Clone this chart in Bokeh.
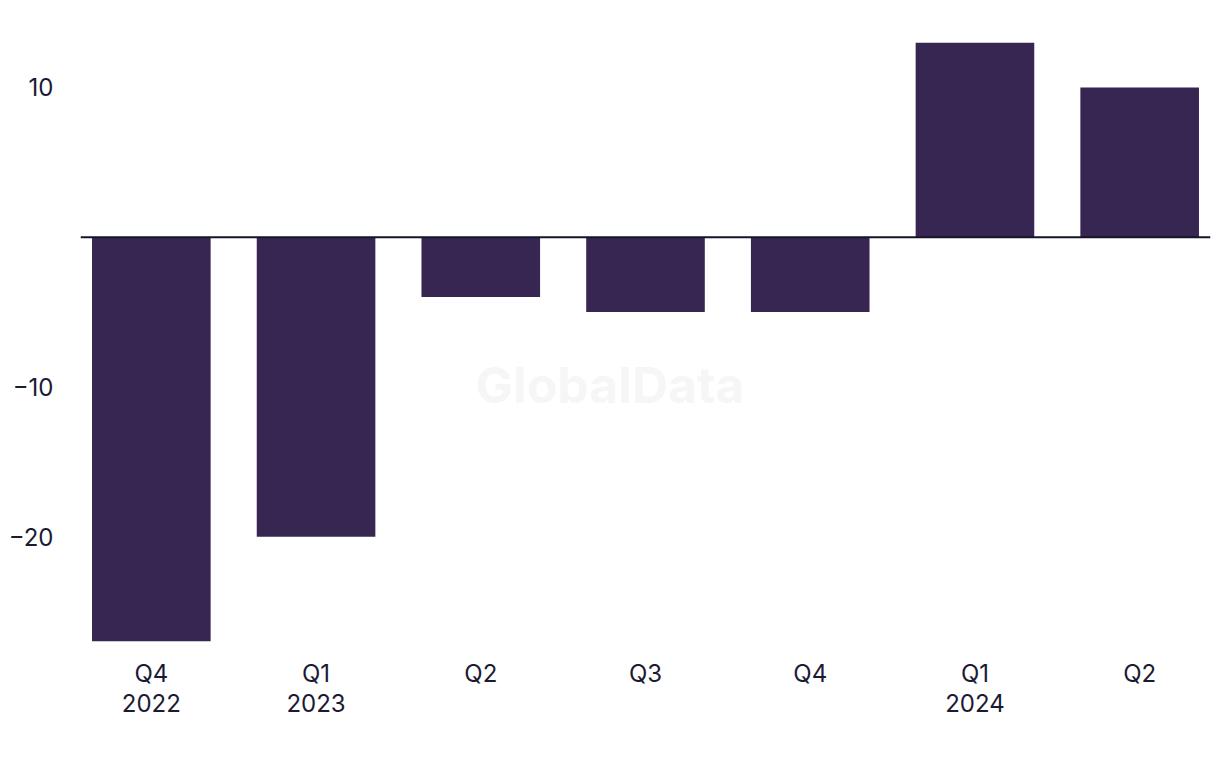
from bokeh.plotting import figure
from bokeh.models import Range1d, FixedTicker, Span, Label
from bokeh.embed import file_html
from bokeh.resources import INLINE

labels = ["Q4\n2022", "Q1\n2023", "Q2", "Q3", "Q4", "Q1\n2024", "Q2"]
values = [-27, -20, -4, -5, -5, 13, 10]
y_ticks = [10, -10, -20]
y_tick_labels = ["10", "\u221210", "\u221220"]

xs = list(range(len(values)))

BAR = "#372552"
TXT = "#1b1a33"
FONT = "Inter"

p = figure(frame_width=1130, frame_height=599, output_backend="svg", toolbar_location=None,
           x_range=Range1d(-0.43, 6.43), y_range=Range1d(-27, 13),
           min_border_left=80, min_border_top=42, min_border_right=4, min_border_bottom=10)

p.vbar(x=xs, top=values, bottom=0, width=0.72, color=BAR, line_color=None)

p.add_layout(Span(location=0, dimension="width", line_color="#15142a", line_width=2))

p.add_layout(Label(x=2.785, y=-9.85, text="GlobalData", text_align="center", text_baseline="middle",
                   text_font=FONT, text_font_style="bold", text_font_size="50px", text_color="#f6f6f6"))

p.xaxis.ticker = FixedTicker(ticks=xs)
p.xaxis.major_label_overrides = {i: l for i, l in zip(xs, labels)}
p.yaxis.ticker = FixedTicker(ticks=y_ticks)
p.yaxis.major_label_overrides = {t: l for t, l in zip(y_ticks, y_tick_labels)}

for ax in (p.xaxis, p.yaxis):
    ax.axis_line_color = None
    ax.major_tick_line_color = None
    ax.minor_tick_line_color = None
    ax.major_tick_out = 0
    ax.major_tick_in = 0
    ax.major_label_text_font = FONT
    ax.major_label_text_font_size = "24px"
    ax.major_label_text_color = TXT

p.xaxis.major_label_text_line_height = 1.06
p.yaxis.major_label_standoff = 27
p.xaxis.major_label_standoff = 17

p.grid.visible = False
p.outline_line_color = None

open("out.html", "w").write(file_html(p, INLINE))
